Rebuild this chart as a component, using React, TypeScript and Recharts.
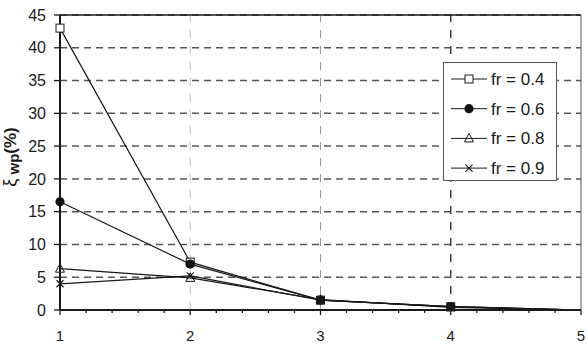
import React from "react";
import {
  LineChart,
  Line,
  XAxis,
  YAxis,
  CartesianGrid,
  ReferenceLine,
  Legend,
} from "recharts";

const modes = [1, 2, 3, 4, 5];
const fr04 = [43, 7.3, 1.5, 0.5, 0];
const fr06 = [16.5, 7, 1.5, 0.5, 0];
const fr08 = [6.3, 4.9, 1.6, 0.4, 0];
const fr09 = [4, 5.2, 1.5, 0.5, 0];
const xTicks = [
  1, 1.2, 1.4, 1.6, 1.8, 2, 2.2, 2.4, 2.6, 2.8, 3, 3.2, 3.4, 3.6, 3.8, 4, 4.2,
  4.4, 4.6, 4.8, 5,
];
const yTicks = [0, 5, 10, 15, 20, 25, 30, 35, 40, 45];

const data = modes.map((m, i) => ({
  mode: m,
  a: fr04[i],
  b: fr06[i],
  c: fr08[i],
  d: fr09[i],
}));

const FONT = "'Liberation Sans', Arial, sans-serif";
const INK = "#1a1a1a";

type Shape = "square" | "circle" | "triangle" | "cross";

function Marker({ shape, x, y }: { shape: Shape; x: number; y: number }) {
  if (shape === "square")
    return <rect x={x - 4} y={y - 4} width={8} height={8} fill="#fff" stroke={INK} strokeWidth={1} />;
  if (shape === "circle") return <circle cx={x} cy={y} r={4.6} fill="#111" />;
  if (shape === "triangle")
    return (
      <path
        d={`M${x},${y - 5} L${x + 4.5},${y + 3.5} L${x - 4.5},${y + 3.5} Z`}
        fill="none"
        stroke={INK}
        strokeWidth={1}
      />
    );
  return (
    <path
      d={`M${x - 3.5},${y - 3.5} L${x + 3.5},${y + 3.5} M${x - 3.5},${y + 3.5} L${x + 3.5},${y - 3.5}`}
      stroke={INK}
      strokeWidth={1.2}
    />
  );
}

const makeDot = (shape: Shape) => (props: any) => {
  const { cx, cy, index } = props;
  if (index === modes.length - 1 || cx == null) return <g key={`${shape}-${index}`} />;
  return (
    <g key={`${shape}-${index}`}>
      <Marker shape={shape} x={cx} y={cy} />
    </g>
  );
};

const XTick = (props: any) => {
  const { x, y, payload } = props;
  const v = payload.value;
  const major = Math.abs(v - Math.round(v)) < 1e-6;
  return (
    <g>
      <line x1={x} y1={y - 8} x2={x} y2={y - 8 + (major ? 5 : 3)} stroke={INK} strokeWidth={1.3} />
      {major && (
        <text x={x} y={y + 23} textAnchor="middle" fontSize={15} fontFamily={FONT} fill={INK}>
          {Math.round(v)}
        </text>
      )}
    </g>
  );
};

const YLabel = () => (
  <text
    transform="translate(16,157) rotate(-90)"
    textAnchor="middle"
    fontFamily={FONT}
    fontSize={18}
    fill={INK}
  >
    <tspan>ξ</tspan>
    <tspan fontWeight="bold" fontSize={15} dy={3}> wp</tspan>
    <tspan fontWeight="bold" fontSize={17} dy={-3}>(%)</tspan>
  </text>
);

const legendShapes: Record<string, Shape> = {
  a: "square",
  b: "circle",
  c: "triangle",
  d: "cross",
};

const LegendBox = (props: any) => {
  const { payload } = props;
  return (
    <div
      style={{
        width: 112,
        height: 117,
        border: "1px solid #555",
        background: "#fff",
        boxSizing: "content-box",
      }}
    >
      <svg width={112} height={117} style={{ display: "block" }}>
        {(payload || []).map((p: any, i: number) => {
          const cy = 16 + i * 29.7;
          return (
            <g key={p.value}>
              <line x1={7} y1={cy} x2={43} y2={cy} stroke={INK} strokeWidth={1} />
              <Marker shape={legendShapes[p.dataKey]} x={25} y={cy} />
              <text x={47} y={cy + 6} fontSize={17} fontFamily={FONT} fill={INK}>
                {p.value}
              </text>
            </g>
          );
        })}
      </svg>
    </div>
  );
};

export default function App() {
  return (
    <div style={{ position: "absolute", left: 0, top: 0, width: 588, height: 344, background: "#fff" }}>
      <LineChart
        width={588}
        height={344}
        data={data}
        margin={{ top: 15, right: 7, bottom: 0, left: 0 }}
      >
        <CartesianGrid
          vertical={false}
          stroke="#555"
          strokeDasharray="7 5"
          strokeWidth={1.5}
        />
        <ReferenceLine x={2} stroke="#bbb" strokeDasharray="8 8" strokeWidth={1} />
        <ReferenceLine x={3} stroke="#999" strokeDasharray="8 8" strokeWidth={1} />
        <ReferenceLine x={4} stroke="#444" strokeDasharray="8 8" strokeWidth={1.5} />
        <ReferenceLine y={45} stroke={INK} strokeWidth={1.5} />
        <ReferenceLine x={5} stroke="#555" strokeWidth={1} />
        <XAxis
          dataKey="mode"
          type="number"
          domain={[1, 5]}
          ticks={xTicks}
          interval={0}
          height={34}
          axisLine={{ stroke: INK, strokeWidth: 2 }}
          tickLine={false}
          tick={<XTick />}
          allowDecimals
        />
        <YAxis
          type="number"
          domain={[0, 45]}
          ticks={yTicks}
          interval={0}
          width={60}
          axisLine={{ stroke: INK, strokeWidth: 2 }}
          tickLine={{ stroke: INK, strokeWidth: 1.3 }}
          tickSize={6}
          tickMargin={8}
          tick={{ fontSize: 16, fontFamily: FONT, fill: INK }}
          label={<YLabel />}
        />
        <Legend
          layout="vertical"
          align="center"
          verticalAlign="middle"
          content={<LegendBox />}
          wrapperStyle={{ position: "absolute", left: 443, top: 62, width: 114, height: 119 }}
        />
        <Line dataKey="a" name="fr = 0.4" stroke={INK} strokeWidth={1.2} dot={makeDot("square")} isAnimationActive={false} />
        <Line dataKey="b" name="fr = 0.6" stroke={INK} strokeWidth={1.2} dot={makeDot("circle")} isAnimationActive={false} />
        <Line dataKey="c" name="fr = 0.8" stroke={INK} strokeWidth={1.2} dot={makeDot("triangle")} isAnimationActive={false} />
        <Line dataKey="d" name="fr = 0.9" stroke={INK} strokeWidth={1.2} dot={makeDot("cross")} isAnimationActive={false} />
      </LineChart>
    </div>
  );
}
